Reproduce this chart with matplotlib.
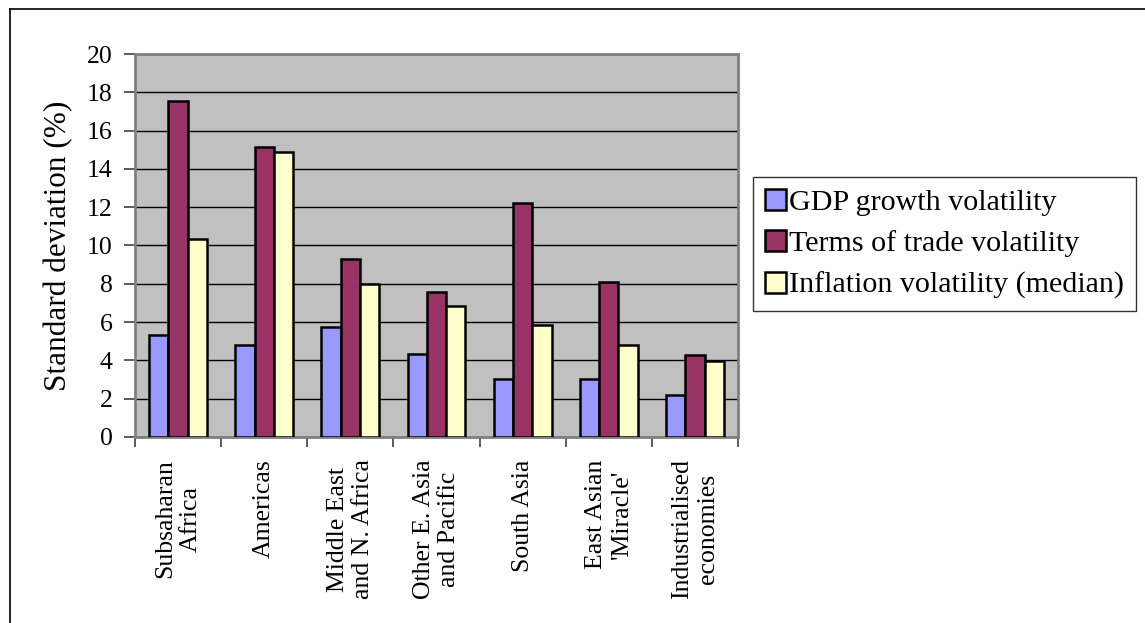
import matplotlib.pyplot as plt
import numpy as np
from matplotlib.lines import Line2D

regions = ['Subsaharan\nAfrica', 'Americas', 'Middle East\nand N. Africa', 'Other E. Asia\nand Pacific',
           'South Asia', "East Asian\n'Miracle'", 'Industrialised\neconomies']
gdp = [5.34, 4.78, 5.76, 4.35, 3.04, 3.04, 2.17]
tot = [17.57, 15.13, 9.32, 7.57, 12.2, 8.09, 4.3]
infl = [10.33, 14.9, 7.97, 6.82, 5.83, 4.78, 3.95]

plt.rcParams['font.family'] = ['Liberation Serif', 'DejaVu Serif']

fig = plt.figure(figsize=(11.45, 6.23), dpi=100)
ax = fig.add_axes([0.1179, 0.2986, 0.5266, 0.6147])
ax.set_facecolor('#C0C0C0')

x = np.arange(len(regions))
w = 0.224
ax.bar(x - w, gdp, w, color='#9999FF', edgecolor='black', linewidth=1.8, label='GDP growth volatility', zorder=3)
ax.bar(x, tot, w, color='#993366', edgecolor='black', linewidth=1.8, label='Terms of trade volatility', zorder=3)
ax.bar(x + w, infl, w, color='#FFFFCC', edgecolor='black', linewidth=1.8, label='Inflation volatility (median)', zorder=3)

ax.set_ylim(0, 20)
ax.set_xlim(-0.5, len(regions) - 0.5)
ax.set_yticks(range(0, 21, 2))
ax.yaxis.grid(True, color='black', linewidth=1)
ax.set_axisbelow(True)
ax.tick_params(axis='y', labelsize=18.5, direction='out', length=8, width=1.2, color='#404040', pad=8)

ax.set_xticks(x)
ax.set_xticklabels(regions, rotation=90, fontsize=18.5, ha='center', va='top', multialignment='center')
ax.tick_params(axis='x', which='major', length=0, pad=16)
ax.set_xticks(np.arange(-0.5, len(regions)), minor=True)
ax.tick_params(axis='x', which='minor', length=7, width=1.2, direction='out', color='#404040')

for s in ax.spines.values():
    s.set_color('#808080')
    s.set_linewidth(2)

ax.set_ylabel('Standard deviation (%)', fontsize=22.5, labelpad=10)

leg = fig.legend(loc='upper left', bbox_to_anchor=(0.6576, 0.716), fontsize=21.6, frameon=True,
                 fancybox=False, edgecolor='black', handlelength=0.7, handleheight=0.7,
                 handletextpad=0.1, borderpad=0.4, labelspacing=0.48, borderaxespad=0)
leg.get_frame().set_linewidth(1)

# outer chart border (left and top edges visible)
fig.add_artist(Line2D([10 / 1145, 10 / 1145], [0, 1 - 9 / 623], color='black', linewidth=1.2))
fig.add_artist(Line2D([10 / 1145, 1], [1 - 9 / 623, 1 - 9 / 623], color='black', linewidth=1.2))

fig.savefig('out.png', dpi=100)
